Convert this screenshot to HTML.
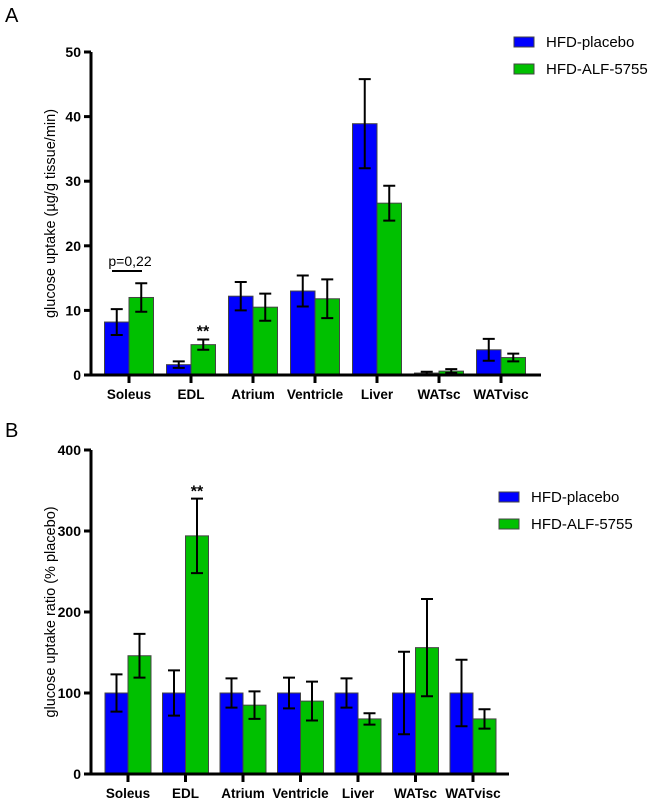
<!DOCTYPE html>
<html><head><meta charset="utf-8"><style>
body{margin:0;background:#fff}
svg{display:block;font-family:"Liberation Sans",Arial,sans-serif}
</style></head><body>
<svg id="s" width="656" height="799" viewBox="0 0 656 799"></svg>
<script>
const categories=["Soleus","EDL","Atrium","Ventricle","Liver","WATsc","WATvisc"];
const aPlacebo=[8.2,1.6,12.2,13.0,38.9,0.3,3.9];
const aPlaceboErr=[2.0,0.5,2.2,2.4,6.9,0.2,1.7];
const aAlf=[12.0,4.7,10.5,11.8,26.6,0.6,2.7];
const aAlfErr=[2.2,0.8,2.1,3.0,2.7,0.3,0.6];
const aTicks=[0,10,20,30,40,50];
const bPlacebo=[100,100,100,100,100,100,100];
const bPlaceboErr=[23,28,18,19,18,51,41];
const bAlf=[146,294,85,90,68,156,68];
const bAlfErr=[27,46,17,24,7,60,12];
const bTicks=[0,100,200,300,400];
const seriesNames=["HFD-placebo","HFD-ALF-5755"];

const NS="http://www.w3.org/2000/svg";
const svg=document.getElementById('s');
function el(tag,attrs,parent,text){const e=document.createElementNS(NS,tag);for(const k in attrs)e.setAttribute(k,attrs[k]);if(text!==undefined)e.textContent=text;(parent||svg).appendChild(e);return e;}

function panel(cfg){
  const g=el('g',{});
  
  
  const y=v=>cfg.y0-(v/cfg.max)*(cfg.y0-cfg.yTop);
  const x=i=>cfg.x0+cfg.step*i;
  const lbl=el('text',{x:5,y:cfg.labelY,'font-size':20},g,cfg.label);
  
  
  // bars
  const series=[[cfg.p,cfg.pe,'#0000ff',-1],[cfg.a,cfg.ae,'#00c000',0]];
  series.forEach((s,si)=>{
    categories.forEach((c,i)=>{
      const bx=x(i)+s[3]*cfg.bw;
      const r=el('rect',{x:bx,y:y(s[0][i]),width:cfg.bw,height:y(0)-y(s[0][i]),fill:s[2],stroke:'#444','stroke-width':1},g);
      
      
      const cx=bx+cfg.bw/2, hi=y(s[0][i]+s[1][i]), lo=y(s[0][i]-s[1][i]);
      const eb=el('path',{d:`M${cx},${hi}V${lo}M${cx-6},${hi}H${cx+6}M${cx-6},${lo}H${cx+6}`,stroke:'#000','stroke-width':2,fill:'none'},g);
      
      
    });
  });
  // axes
  const ax=el('path',{d:`M${cfg.ax},${cfg.yTop}V${cfg.y0}H${cfg.xEnd}`,stroke:'#000','stroke-width':3,fill:'none'},g);
  
  
  cfg.ticks.forEach(t=>{
    el('line',{x1:cfg.ax-7,x2:cfg.ax,y1:y(t),y2:y(t),stroke:'#000','stroke-width':3},g);
    const tl=el('text',{x:cfg.ax-10,y:y(t)+5,'font-size':14,'font-weight':'bold','text-anchor':'end'},g,t);
    
    
  });
  categories.forEach((c,i)=>{
    el('line',{x1:x(i),x2:x(i),y1:cfg.y0,y2:cfg.y0+8,stroke:'#000','stroke-width':3},g);
    const tl=el('text',{x:x(i),y:cfg.y0+24,'font-size':13.5,'font-weight':'bold','text-anchor':'middle'},g,c);
    
    
  });
  const yt=el('text',{x:0,y:0,'font-size':14.5,'text-anchor':'middle',transform:`translate(${cfg.titleX},${(cfg.yTop+cfg.y0)/2}) rotate(-90)`},g,cfg.title);
  
  
  // legend
  [['#0000ff',0],['#00c000',1]].forEach(([col,k])=>{
    const ly=cfg.legY+k*27;
    const lr=el('rect',{x:cfg.legX,y:ly,width:20,height:10,fill:col,stroke:'#444'},g);
    
    
    const lt=el('text',{x:cfg.legX+32,y:ly+10,'font-size':15},g,seriesNames[k]);
    
    
  });
  return {g,x,y};
}

const A=panel({name:'chart-a',label:'A',labelY:22,p:aPlacebo,pe:aPlaceboErr,a:aAlf,ae:aAlfErr,max:50,ticks:aTicks,
  y0:375,yTop:52,ax:91,xEnd:541,x0:129,step:62,bw:24.5,titleX:55,title:'glucose uptake (µg/g tissue/min)',legX:514,legY:37});
const B=panel({name:'chart-b',label:'B',labelY:437,p:bPlacebo,pe:bPlaceboErr,a:bAlf,ae:bAlfErr,max:400,ticks:bTicks,
  y0:774,yTop:450,ax:91,xEnd:509,x0:128,step:57.5,bw:23,titleX:55,title:'glucose uptake ratio (% placebo)',legX:499,legY:492});

// annotations
let t=el('text',{x:130,y:266,'font-size':14,'text-anchor':'middle'},A.g,'p=0,22');


let l=el('line',{x1:112,x2:142,y1:271,y2:271,stroke:'#000','stroke-width':2},A.g);


t=el('text',{x:A.x(1)+12,y:A.y(aAlf[1]+aAlfErr[1])-3,'font-size':16,'font-weight':'bold','text-anchor':'middle'},A.g,'**');


t=el('text',{x:B.x(1)+11.5,y:B.y(bAlf[1]+bAlfErr[1])-2,'font-size':16,'font-weight':'bold','text-anchor':'middle'},B.g,'**');


</script>
</body></html>
